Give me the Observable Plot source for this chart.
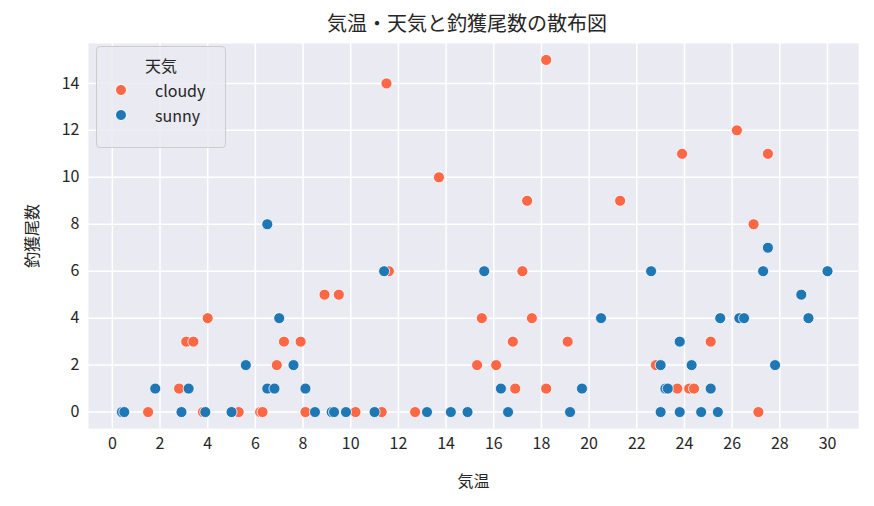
<!DOCTYPE html>
<html><head><meta charset="utf-8">
<script src="https://cdn.jsdelivr.net/npm/d3@7"></script>
<script src="https://cdn.jsdelivr.net/npm/@observablehq/plot@0.6"></script>
<style>
body{margin:0;background:#fff;font-family:"Noto Sans CJK JP","DejaVu Sans",sans-serif;}
#wrap{position:relative;width:874px;height:506px;}
#title{height:40px;line-height:46px;text-align:center;font-size:20px;color:#262626;padding-left:60px;}
#legend{position:absolute;left:96px;top:46px;width:128px;height:100px;background:rgba(234,234,242,0.85);border:1px solid #cccccc;border-radius:4px;font-size:16px;color:#262626;}
#legend .t{text-align:center;margin-top:6px;}
#legend .r{display:flex;align-items:center;margin-left:18px;height:25px;}
#legend .d{width:10px;height:10px;border-radius:50%;border:1px solid #fff;margin-right:28px;}
</style></head><body>
<div id="wrap"><div id="title">気温・天気と釣獲尾数の散布図</div><div id="chart"></div>
<div id="legend"><div class="t">天気</div>
<div class="r"><div class="d" style="background:#fc6746"></div>cloudy</div>
<div class="r"><div class="d" style="background:#1f77b4"></div>sunny</div></div></div>
<script>
const cloudyTemp=[0.5,1.5,2.8,3.1,3.4,3.8,4.0,5.3,6.2,6.3,6.9,7.2,7.9,8.1,8.9,9.5,10.2,11.3,11.6,11.5,12.7,13.7,15.3,15.5,16.1,16.8,16.9,17.2,17.4,17.6,18.2,18.2,19.1,21.3,22.8,23.7,23.9,24.2,24.4,25.1,26.2,26.9,27.1,27.5];
const cloudyCatch=[0,0,1,3,3,0,4,0,0,0,2,3,3,0,5,5,0,0,6,14,0,10,2,4,2,3,1,6,9,4,15,1,3,9,2,1,11,1,1,3,12,8,0,11];
const sunnyTemp=[0.4,0.5,1.8,2.9,3.2,3.9,5.0,5.6,6.5,6.5,6.8,7.0,7.6,8.1,8.5,9.2,9.3,9.8,11.0,11.4,13.2,14.2,14.9,15.6,16.3,16.6,19.2,19.7,20.5,22.6,23.0,23.0,23.2,23.3,23.8,23.8,24.3,24.7,25.1,25.4,25.5,26.3,26.5,27.3,27.5,27.8,28.9,29.2,30.0];
const sunnyCatch=[0,0,1,0,1,0,0,2,8,1,1,4,2,1,0,0,0,0,0,6,0,0,0,6,1,0,0,1,4,6,2,0,1,1,3,0,2,0,1,0,4,4,4,6,7,2,5,4,6];
const xTicks=d3.range(0,31,2), yTicks=d3.range(0,15,2);
const data=[...cloudyTemp.map((t,i)=>({t,c:cloudyCatch[i],w:"cloudy"})),...sunnyTemp.map((t,i)=>({t,c:sunnyCatch[i],w:"sunny"}))];
const chart=Plot.plot({
 width:874,height:466,marginLeft:88,marginRight:16,marginTop:3,marginBottom:78,
 style:{fontFamily:'"Noto Sans CJK JP","DejaVu Sans",sans-serif',fontSize:"16px",color:"#262626"},
 x:{domain:[-1,31.3]},
 y:{domain:[-0.7,15.7]},
 color:{domain:["cloudy","sunny"],range:["#fc6746","#1f77b4"]},
 marks:[
  Plot.frame({fill:"#eaeaf2",stroke:null}),
  Plot.ruleX(xTicks,{stroke:"#fff",strokeWidth:1.5}),
  Plot.ruleY(yTicks,{stroke:"#fff",strokeWidth:1.5}),
  Plot.dot(data,{x:"t",y:"c",fill:"w",stroke:"#fff",strokeWidth:0.8,r:5.5}),
  Plot.axisX({ticks:xTicks,tickSize:0,tickPadding:9,label:"気温",labelAnchor:"center",labelOffset:58,labelArrow:"none"}),
  Plot.axisY({ticks:yTicks,tickSize:0,tickPadding:9,label:"釣獲尾数",labelAnchor:"center",labelOffset:62,labelArrow:"none"})
 ]});
document.getElementById("chart").appendChild(chart);
</script></body></html>
